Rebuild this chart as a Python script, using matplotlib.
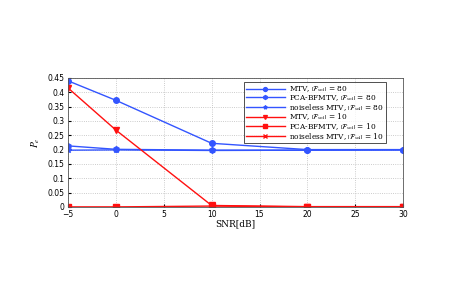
import matplotlib
matplotlib.use("Agg")
import matplotlib.pyplot as plt

snr = [-5, 0, 10, 20, 30]
mtv_80 = [0.440, 0.372, 0.222, 0.200, 0.200]
pca_80 = [0.213, 0.201, 0.198, 0.198, 0.199]
noiseless_80 = [0.198, 0.199, 0.197, 0.198, 0.199]
mtv_10 = [0.415, 0.268, 0.005, 0.001, 0.001]
pca_10 = [0.0, 0.0, 0.003, 0.0, 0.0]
noiseless_10 = [0.0, 0.0, 0.0, 0.0, 0.0]

labels = [r"MTV, $|\mathcal{F}_{\rm sol}|$ = 80",
          r"PCA-BFMTV, $|\mathcal{F}_{\rm sol}|$ = 80",
          r"noiseless MTV, $|\mathcal{F}_{\rm sol}|$ = 80",
          r"MTV, $|\mathcal{F}_{\rm sol}|$ = 10",
          r"PCA-BFMTV, $|\mathcal{F}_{\rm sol}|$ = 10",
          r"noiseless MTV, $|\mathcal{F}_{\rm sol}|$ = 10"]

plt.rcParams['mathtext.fontset'] = 'stix'
fig = plt.figure(figsize=(4.57, 2.91), dpi=100)
ax = fig.add_axes([0.149, 0.289, 0.733, 0.443])

blue = '#3355ff'
red = '#ff1010'
series = [(mtv_80, blue, 'o'), (pca_80, blue, 'h'), (noiseless_80, blue, '*'),
          (mtv_10, red, 'v'), (pca_10, red, 's'), (noiseless_10, red, 'x')]
for (vals, c, m), lab in zip(series, labels):
    ax.plot(snr, vals, color=c, marker=m, markersize=4, linewidth=1.0, label=lab)

ax.set_xlim(-5, 30)
ax.set_ylim(0, 0.45)
ax.set_xticks([-5, 0, 5, 10, 15, 20, 25, 30])
ax.set_yticks([0, 0.05, 0.1, 0.15, 0.2, 0.25, 0.3, 0.35, 0.4, 0.45])
ax.set_yticklabels(['0', '0.05', '0.1', '0.15', '0.2', '0.25', '0.3', '0.35', '0.4', '0.45'])
ax.tick_params(labelsize=5.5, direction='in', length=2, pad=1.5)
ax.tick_params(axis='x', pad=2.5)
ax.tick_params(axis='y', pad=2.5)
ax.grid(True, linestyle=':', color='#bbbbbb', linewidth=0.6)
ax.set_xlabel('SNR[dB]', family='DejaVu Serif', fontsize=6.5, labelpad=0)
ax.set_ylabel(r'$P_e$', fontsize=7, labelpad=4)
for s in ax.spines.values():
    s.set_linewidth(0.6)
    s.set_color('#555555')
leg = ax.legend(loc='upper right', bbox_to_anchor=(0.948, 0.965),
                prop={'family': 'DejaVu Serif', 'size': 5.3}, frameon=True, fancybox=False,
                edgecolor='black', handlelength=5.3, handletextpad=0.6, borderpad=0.25,
                labelspacing=-0.15, borderaxespad=0, markerscale=0.7)
leg.get_frame().set_linewidth(0.6)
fig.savefig('out.png', dpi=100)
